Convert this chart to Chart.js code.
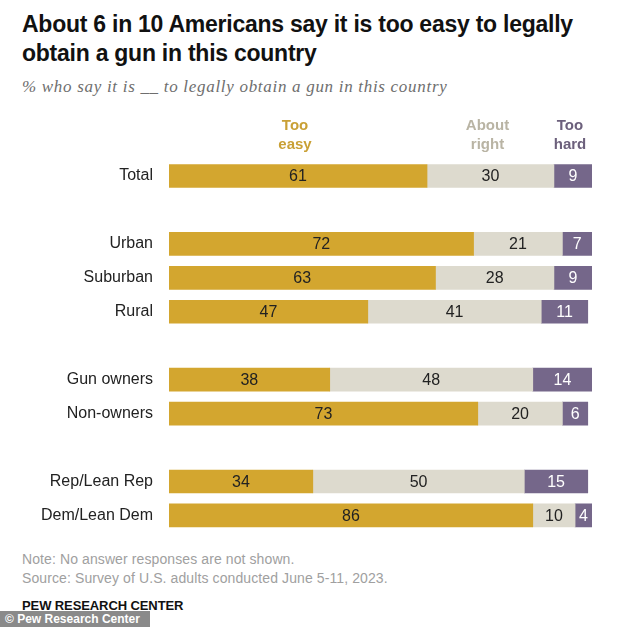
<!DOCTYPE html>
<html>
<head>
<meta charset="utf-8">
<script src="https://cdn.jsdelivr.net/npm/chart.js@4"></script>
<style>
  html, body { margin: 0; padding: 0; background: #fff; }
  body { width: 634px; height: 627px; position: relative; overflow: hidden; font-family: "Liberation Sans", Arial, sans-serif; }
  #title { position: absolute; left: 22px; top: 10px; width: 610px; font-weight: bold; font-size: 23px; line-height: 29px; color: #111; letter-spacing: -0.25px; white-space: nowrap; }
  #sub { position: absolute; left: 22px; top: 77px; font-family: "Liberation Serif", serif; font-style: italic; font-size: 17px; letter-spacing: 0.7px; color: #6e6e6e; white-space: nowrap; }
  #wrap { position: absolute; left: 0; top: 110px; width: 634px; height: 440px; }
  .foot { position: absolute; left: 22px; font-size: 14px; color: #a0a0a0; white-space: nowrap; letter-spacing: 0.1px; }
  #pew { position: absolute; left: 22px; top: 598px; font-size: 13px; font-weight: bold; color: #111; letter-spacing: -0.1px; }
  #wm { position: absolute; left: 0; top: 611px; width: 150px; height: 16px; background: #8a8a8a; color: #fff; font-size: 12px; font-weight: bold; line-height: 16px; padding-left: 5px; box-sizing: border-box; white-space: nowrap; }
</style>
</head>
<body>
<div id="title">About 6 in 10 Americans say it is too easy to legally<br>obtain a gun in this country</div>
<div id="sub">% who say it is __ to legally obtain a gun in this country</div>
<div id="wrap"><canvas id="c" width="634" height="440"></canvas></div>
<div class="foot" style="top:551px">Note: No answer responses are not shown.</div>
<div class="foot" style="top:570px">Source: Survey of U.S. adults conducted June 5-11, 2023.</div>
<div id="pew">PEW RESEARCH CENTER</div>
<div id="wm">© Pew Research Center</div>
<script>
// categorias (linhas vazias separam os grupos)
const categories = ["Total", "", "Urban", "Suburban", "Rural", "", "Gun owners", "Non-owners", "", "Rep/Lean Rep", "Dem/Lean Dem"];
const seriesNames = [["Too", "easy"], ["About", "right"], ["Too", "hard"]];
const tooEasy    = [61, null, 72, 63, 47, null, 38, 73, null, 34, 86];
const aboutRight = [30, null, 21, 28, 41, null, 48, 20, null, 50, 10];
const tooHard    = [9,  null, 7,  9,  11, null, 14, 6,  null, 15, 4];

const FILL = ["#d3a62f", "#dddace", "#75678a"];
const HEAD = ["#c9a035", "#b9b4a4", "#6c607c"];
const TEXT = ["#222", "#222", "#fff"];
const FONT = '"Liberation Sans", Arial, sans-serif';

// rotulos de valor dentro das barras + cabecalhos acima da barra "Total"
const labelsPlugin = {
  id: "labels",
  afterDatasetsDraw(chart) {
    const ctx = chart.ctx;
    ctx.save();
    ctx.textAlign = "center";
    ctx.textBaseline = "middle";
    chart.data.datasets.forEach((ds, i) => {
      const meta = chart.getDatasetMeta(i);
      meta.data.forEach((bar, j) => {
        const v = ds.data[j];
        if (v == null) return;
        const cx = (bar.x + bar.base) / 2;
        ctx.font = "16px " + FONT;
        ctx.fillStyle = TEXT[i];
        ctx.fillText(String(v), cx, bar.y + 1);
        if (j === 0) {
          ctx.font = "bold 15px " + FONT;
          ctx.fillStyle = HEAD[i];
          ctx.fillText(seriesNames[i][0], cx - 3, 16);
          ctx.fillText(seriesNames[i][1], cx - 3, 35);
        }
      });
    });
    ctx.restore();
  }
};

new Chart(document.getElementById("c"), {
  type: "bar",
  data: {
    labels: categories,
    datasets: [
      { label: "Too easy", data: tooEasy, backgroundColor: FILL[0] },
      { label: "About right", data: aboutRight, backgroundColor: FILL[1] },
      { label: "Too hard", data: tooHard, backgroundColor: FILL[2] },
    ],
  },
  options: {
    indexAxis: "y",
    responsive: false,
    animation: false,
    layout: { padding: { top: 49, bottom: 14, right: 42, left: 0 } },
    datasets: { bar: { barThickness: 23, borderWidth: 0 } },
    scales: {
      x: { stacked: true, min: 0, max: 100, display: false },
      y: {
        stacked: true,
        grid: { display: false },
        border: { display: false },
        ticks: { color: "#222", font: { family: FONT, size: 16 }, padding: 8 },
        afterFit(scale) { scale.width = 169; },
      },
    },
    plugins: { legend: { display: false }, tooltip: { enabled: false } },
  },
  plugins: [labelsPlugin],
});
</script>
</body>
</html>
